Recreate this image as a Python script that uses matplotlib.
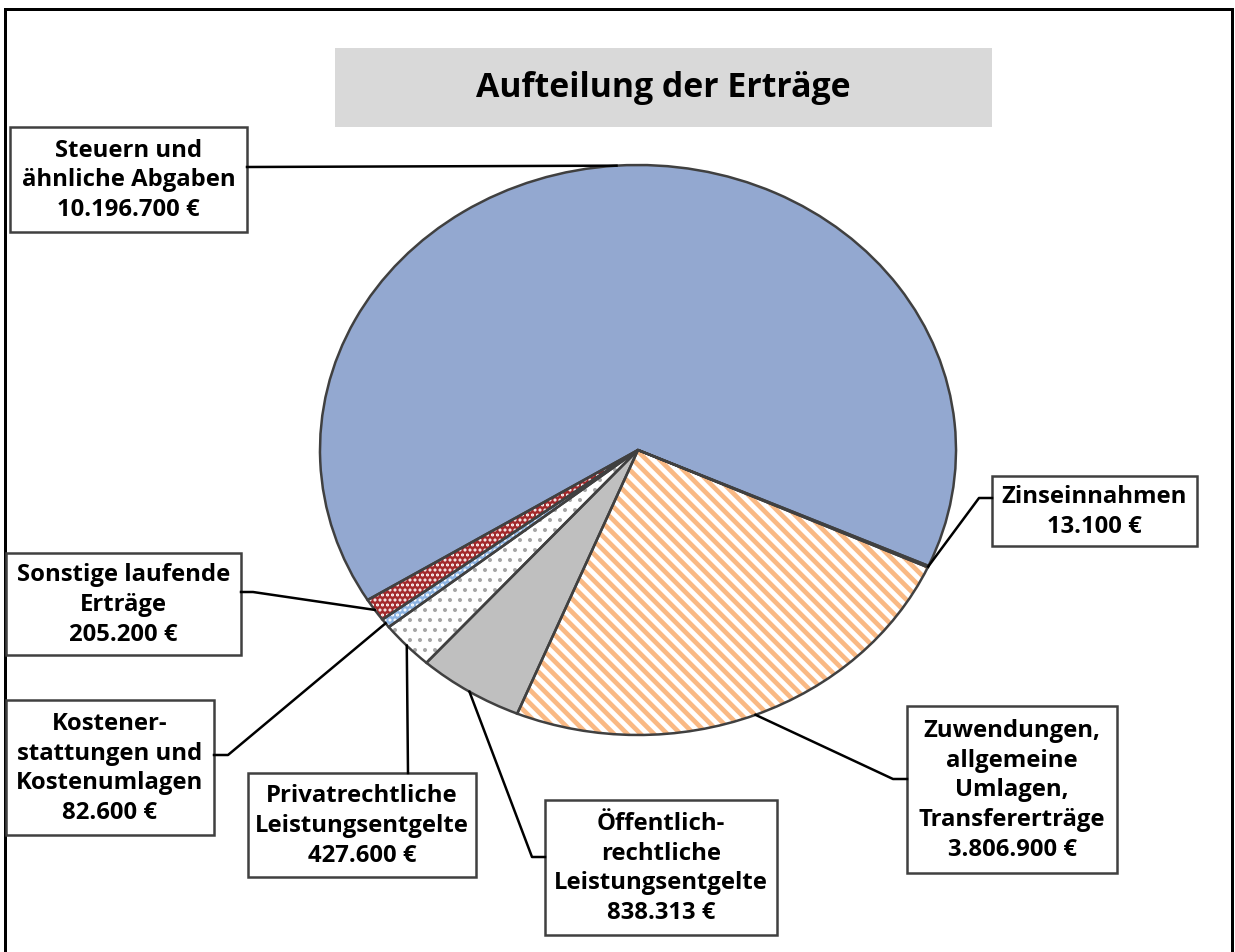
import numpy as np
import matplotlib.pyplot as plt
from matplotlib.patches import Rectangle
from matplotlib.lines import Line2D

plt.rcParams['font.family'] = ['Open Sans', 'DejaVu Sans']

# Daten
kategorien = ['Steuern und\nähnliche Abgaben', 'Sonstige laufende\nErträge',
              'Kostener-\nstattungen und\nKostenumlagen',
              'Privatrechtliche\nLeistungsentgelte',
              'Öffentlich-\nrechtliche\nLeistungsentgelte',
              'Zuwendungen,\nallgemeine\nUmlagen,\nTransfererträge',
              'Zinseinnahmen']
werte = [10196700, 205200, 82600, 427600, 838313, 3806900, 13100]

farben = ['#93A8D0', '#A3292B', '#8DB4E2', '#FFFFFF', '#BFBFBF', '#FFFFFF', '#93A8D0']
hatches = [None, '....', '....', '..', None, '\\\\\\', None]
hatchfarben = ['#93A8D0', '#FFFFFF', '#FFFFFF', '#A6A6A6', '#BFBFBF', '#F9B984', '#93A8D0']
hatch_lw = [1, 1.2, 1.2, 1.2, 1, 2.8, 1]

# Layout in Pixeln (links, oben, rechts, unten) und Knickpunkt der Linie
boxen = [(10, 127, 247, 232), (6, 553, 241, 655), (6, 700, 214, 835),
         (248, 773, 476, 877), (545, 800, 777, 935), (907, 706, 1117, 873),
         (992, 476, 1197, 546)]
anker = [(247, 167), (241, 592), (214, 755), (408, 773), (545, 857), (907, 779), (992, 498)]
knick = [(247, 167), (253, 592), (228, 755), (408, 773), (532, 857), (893, 779), (979, 498)]

W, H = 1235, 952
dpi = 120
fig = plt.figure(figsize=(W/dpi, H/dpi), dpi=dpi)

def px(x, y):
    return (x/W, 1 - y/H)

ax = fig.add_axes([320/W, 1 - 735/H, 636/W, 570/H])
wedges, _ = ax.pie(werte, startangle=-24, counterclock=True, colors=farben,
                   wedgeprops=dict(linewidth=0))
for w, h, hc, lw in zip(wedges, hatches, hatchfarben, hatch_lw):
    if h:
        w.set_hatch(h)
        w.set_edgecolor(hc)
        if hasattr(w, 'set_hatch_linewidth'):
            w.set_hatch_linewidth(lw)
rand, _ = ax.pie(werte, startangle=-24, counterclock=True,
                 wedgeprops=dict(facecolor='none', edgecolor='#404040', linewidth=1.5))
ax.set_aspect('auto')
ax.set_xlim(-1, 1)
ax.set_ylim(-1, 1)
ax.axis('off')

# Rahmen
fig.add_artist(Rectangle(px(5, 960), 1227/W, 951/H, transform=fig.transFigure,
                         fill=False, ec='black', lw=1.8))

# Titel
fig.add_artist(Rectangle(px(335, 127), 657/W, 79/H, transform=fig.transFigure,
                         fc='#D9D9D9', ec='none'))
fig.text(*px(663, 88), 'Aufteilung der Erträge', ha='center', va='center',
         fontsize=20.3, fontweight='bold')

to_fig = ax.transData + fig.transFigure.inverted()
for w, kat, v, (l, t, r, b), a, k in zip(wedges, kategorien, werte, boxen, anker, knick):
    theta = np.deg2rad((w.theta1 + w.theta2) / 2)
    p = to_fig.transform((np.cos(theta), np.sin(theta)))
    xs = [a[0]/W, k[0]/W, p[0]]
    ys = [1 - a[1]/H, 1 - k[1]/H, p[1]]
    fig.add_artist(Line2D(xs, ys, transform=fig.transFigure, color='black', lw=1.5))
    fig.add_artist(Rectangle(px(l, b), (r - l)/W, (b - t)/H, transform=fig.transFigure,
                             fc='white', ec='#404040', lw=1.5))
    txt = kat + '\n' + f'{v:,}'.replace(',', '.') + ' €'
    fig.text(*px((l + r)/2, (t + b)/2 + 1), txt, ha='center', va='center',
             fontsize=14.3, fontweight='bold', linespacing=1.33)

fig.savefig('out.png', dpi=dpi, facecolor='white')
